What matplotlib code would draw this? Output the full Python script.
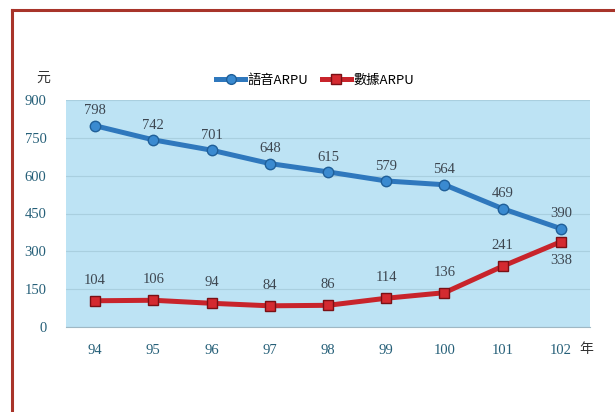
import matplotlib
matplotlib.use('Agg')
import matplotlib.pyplot as plt
from matplotlib.lines import Line2D

years = ['94', '95', '96', '97', '98', '99', '100', '101', '102']
voice_arpu = [798, 742, 701, 648, 615, 579, 564, 469, 390]
data_arpu = [104, 106, 94, 84, 86, 114, 136, 241, 338]
y_ticks = [0, 150, 300, 450, 600, 750, 900]

BLUE = '#2f78bd'
RED = '#c8242b'
TICK_COLOR = '#255f78'
LABEL_COLOR = '#3d4650'
SERIF = ['Liberation Serif', 'DejaVu Serif']
CJK = ['Noto Sans CJK TC', 'DejaVu Sans']

fig = plt.figure(figsize=(6.15, 4.12), dpi=100)
fig.patch.set_facecolor('white')

# dark red frame (top and left edges)
fig.add_artist(Line2D([12 / 615, 1.0], [1 - 10 / 412] * 2, color='#a8342a', lw=2.2))
fig.add_artist(Line2D([12 / 615] * 2, [0, 1 - 10 / 412], color='#a8342a', lw=2.2))

ax = fig.add_axes([66 / 615, 1 - 327 / 412, 524 / 615, 227 / 412])
ax.set_facecolor('#bde3f4')

x = range(len(years))
ax.plot(x, voice_arpu, color=BLUE, lw=3.6, marker='o', markersize=7.5,
        markerfacecolor='#3a8ad0', markeredgecolor='#1f5f99', zorder=3)
ax.plot(x, data_arpu, color=RED, lw=3.6, marker='s', markersize=7.5,
        markerfacecolor='#d42a30', markeredgecolor='#7a1015', zorder=3)

for i, v in enumerate(voice_arpu):
    ax.annotate(str(v), (i, v), xytext=(0, 6), textcoords='offset points',
                ha='center', va='bottom', fontsize=10.5, family=SERIF, color=LABEL_COLOR)
for i, v in enumerate(data_arpu):
    if i == len(data_arpu) - 1:
        off, va = (0, -9), 'top'
    else:
        off, va = (0, 10), 'bottom'
    ax.annotate(str(v), (i, v), xytext=off, textcoords='offset points',
                ha='center', va=va, fontsize=10.5, family=SERIF, color=LABEL_COLOR)

ax.set_xlim(-0.5, len(years) - 0.5)
ax.set_ylim(0, 900)
ax.set_yticks(y_ticks)
ax.set_xticks(list(x))
ax.set_xticklabels(years)
for lab in ax.get_xticklabels() + ax.get_yticklabels():
    lab.set_family(SERIF)
    lab.set_fontsize(10.5)
    lab.set_color(TICK_COLOR)
ax.tick_params(axis='y', length=0, pad=14)
ax.tick_params(axis='x', length=0, pad=12)
ax.grid(axis='y', color='#a9cfdf', lw=0.8)
ax.set_axisbelow(True)
for s in ['top', 'right', 'left']:
    ax.spines[s].set_visible(False)
ax.spines['bottom'].set_color('#9fb8c4')

fig.text(43 / 615, 1 - 78 / 412, '元', family=CJK, fontsize=10, color='#333333',
         ha='center', va='center')
fig.text(586 / 615, 1 - 349 / 412, '年', family=CJK, fontsize=10, color='#333333',
         ha='center', va='center')

handles = [Line2D([], [], color=BLUE, lw=3.6, marker='o', markersize=7,
                  markerfacecolor='#3a8ad0', markeredgecolor='#1f5f99'),
           Line2D([], [], color=RED, lw=3.6, marker='s', markersize=7,
                  markerfacecolor='#d42a30', markeredgecolor='#7a1015')]
fig.legend(handles, ['語音ARPU', '數據ARPU'], loc='center',
           bbox_to_anchor=(315 / 615, 1 - 80 / 412), ncol=2, frameon=False,
           prop={'family': CJK, 'size': 9.5}, handlelength=2.2,
           handletextpad=0.2, columnspacing=1.0)

fig.savefig('out.png', dpi=100, facecolor='white')
